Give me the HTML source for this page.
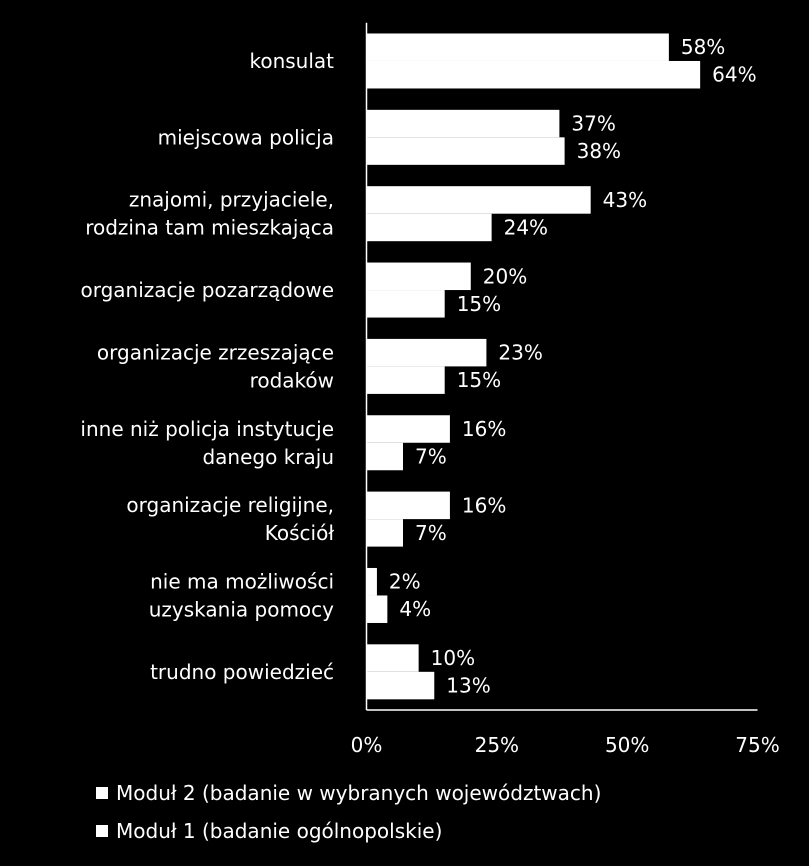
<!DOCTYPE html>
<html><head><meta charset="utf-8"><style>
html,body{margin:0;padding:0;background:#000;}
svg{display:block;}
text{font-family:"DejaVu Sans","Liberation Sans",sans-serif;fill:#fff;font-size:20px;}
</style></head><body>
<svg id="chart" width="809" height="866"></svg>
<script>
const categories = [["konsulat"],["miejscowa policja"],["znajomi, przyjaciele,","rodzina tam mieszkająca"],["organizacje pozarządowe"],["organizacje zrzeszające","rodaków"],["inne niż policja instytucje","danego kraju"],["organizacje religijne,","Kościół"],["nie ma możliwości","uzyskania pomocy"],["trudno powiedzieć"]];
const modul2 = [58,37,43,20,23,16,16,2,10];
const modul1 = [64,38,24,15,15,7,7,4,13];
const ticks = [0,25,50,75];
const seriesNames = ["Moduł 2 (badanie w wybranych województwach)","Moduł 1 (badanie ogólnopolskie)"];
const NS="http://www.w3.org/2000/svg";
const svgEl=document.getElementById('chart');
const x0=366.5, x1=757.5, plotTop=22.8, plotBottom=710;
const band=(plotBottom-plotTop)/categories.length;
const xs=v=>x0+(v/75)*(x1-x0);
const ys=i=>plotTop+band*i+band/2;
const barH=27.5;
function el(t,a){const e=document.createElementNS(NS,t);for(const k in a)e.setAttribute(k,a[k]);svgEl.appendChild(e);return e;}
categories.forEach((lines,i)=>{
  const cy=ys(i);
  const vals=[modul2[i],modul1[i]];
  vals.forEach((v,s)=>{
    const y=s===0?cy-barH:cy;
    const r=el('rect',{x:x0,y:y,width:xs(v)-x0,height:barH,fill:'#fff'});
    
    
    const t=el('text',{x:xs(v)+12,y:y+barH/2+7});
    t.textContent=v+'%';
    
    
  });
  const n=lines.length;
  lines.forEach((ln,j)=>{
    const t=el('text',{x:334,y:cy+7+(j-(n-1)/2)*28,'text-anchor':'end'});
    t.textContent=ln;
    
    
  });
});
const ax=el('line',{x1:x0,y1:plotTop,x2:x0,y2:plotBottom,stroke:'#fff','stroke-width':1.5});


const bx=el('line',{x1:x0,y1:plotBottom,x2:x1,y2:plotBottom,stroke:'#fff','stroke-width':1.5});


ticks.forEach(v=>{
  const t=el('text',{x:xs(v),y:752,'text-anchor':'middle'});
  t.setAttribute('font-size','22');
  t.textContent=v+'%';
  
  
});
seriesNames.forEach((nm,i)=>{
  const y=800+i*38;
  const r=el('rect',{x:96,y:y-13,width:12,height:12,fill:'#fff'});
  
  
  const t=el('text',{x:116,y:y});
  t.textContent=nm;
  
  
});
</script>
</body></html>
